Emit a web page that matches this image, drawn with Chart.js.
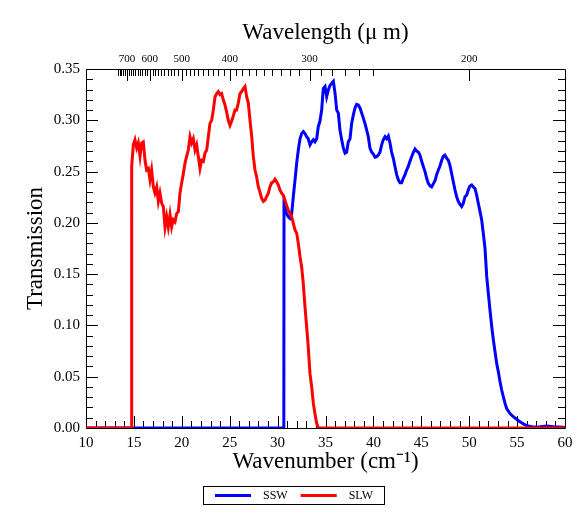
<!DOCTYPE html>
<html>
<head>
<meta charset="utf-8">
<script src="https://cdn.jsdelivr.net/npm/chart.js@4.4.1/dist/chart.umd.min.js"></script>
<style>
  html, body { margin: 0; padding: 0; background: #fff; }
  #wrap { width: 588px; height: 516px; }
</style>
</head>
<body>
<div id="wrap"><canvas id="chart" width="588" height="516"></canvas></div>
<script>
// SSW (blue) transmission vs wavenumber (cm-1)
const sswWavenumber = [10, 30.65, 30.67, 30.94, 31.12, 31.29, 31.47, 31.64, 31.82, 31.99, 32.16, 32.34, 32.51, 32.68, 32.86, 33.03,
  33.2, 33.38, 33.56, 33.73, 33.9, 34.08, 34.25, 34.42, 34.6, 34.77, 34.95, 35.12, 35.29, 35.47, 35.64, 35.82,
  36.0, 36.17, 36.34, 36.51, 36.69, 36.86, 37.04, 37.21, 37.38, 37.56, 37.73, 37.9, 38.08, 38.25, 38.42, 38.6,
  38.78, 38.95, 39.12, 39.3, 39.47, 39.64, 39.82, 39.99, 40.17, 40.34, 40.51, 40.69, 40.86, 41.03, 41.21, 41.38,
  41.56, 41.73, 41.9, 42.08, 42.25, 42.43, 42.6, 42.78, 42.95, 43.12, 43.3, 43.47, 43.64, 43.82, 43.99, 44.16,
  44.34, 44.51, 44.69, 44.86, 45.04, 45.21, 45.39, 45.56, 45.73, 45.91, 46.08, 46.25, 46.43, 46.6, 46.78, 46.95,
  47.13, 47.3, 47.47, 47.65, 47.82, 47.99, 48.17, 48.34, 48.52, 48.69, 48.86, 49.04, 49.21, 49.38, 49.56, 49.73,
  49.9, 50.08, 50.26, 50.43, 50.6, 50.78, 50.95, 51.13, 51.3, 51.47, 51.65, 51.83, 52.0, 52.17, 52.35, 52.52,
  52.7, 52.87, 53.04, 53.22, 53.39, 53.56, 53.74, 53.91, 54.26, 54.6, 54.96, 55.3, 55.65, 56.0, 56.7, 57.4,
  58.1, 58.8, 59.8, 60];
const sswTransmission = [0, 0, 0.219, 0.209, 0.206, 0.2045, 0.209, 0.2255, 0.242, 0.258, 0.271, 0.282, 0.287, 0.289, 0.287, 0.284,
  0.282, 0.276, 0.279, 0.281, 0.279, 0.282, 0.294, 0.299, 0.310, 0.331, 0.333, 0.323, 0.3295, 0.334, 0.336, 0.338,
  0.326, 0.310, 0.307, 0.2905, 0.281, 0.273, 0.268, 0.269, 0.279, 0.282, 0.297, 0.305, 0.312, 0.3155, 0.315, 0.312,
  0.307, 0.302, 0.297, 0.2905, 0.284, 0.273, 0.269, 0.267, 0.264, 0.2645, 0.266, 0.269, 0.276, 0.281, 0.284, 0.282,
  0.2847, 0.278, 0.269, 0.263, 0.255, 0.247, 0.242, 0.239, 0.239, 0.2435, 0.247, 0.2515, 0.255, 0.260, 0.2645, 0.2685,
  0.272, 0.270, 0.269, 0.266, 0.260, 0.255, 0.250, 0.2435, 0.2385, 0.236, 0.235, 0.238, 0.241, 0.247, 0.2515, 0.2555,
  0.261, 0.265, 0.266, 0.263, 0.261, 0.256, 0.248, 0.240, 0.232, 0.2255, 0.221, 0.218, 0.216, 0.219, 0.2255, 0.227,
  0.232, 0.236, 0.237, 0.235, 0.2335, 0.227, 0.219, 0.211, 0.203, 0.190, 0.175, 0.1475, 0.131, 0.115, 0.099, 0.086,
  0.074, 0.063, 0.055, 0.045, 0.037, 0.0305, 0.024, 0.019, 0.014, 0.011, 0.0085, 0.006, 0.004, 0.0023, 0.001, 0.0013,
  0.002, 0.0013, 0.0008, 0.0005];

// SLW (red)
const slwWavenumber = [10, 14.75, 14.77, 14.94, 15.11, 15.29, 15.46, 15.64, 15.81, 15.98, 16.16, 16.33, 16.51, 16.68, 16.85, 17.03,
  17.2, 17.38, 17.55, 17.72, 17.9, 18.07, 18.25, 18.42, 18.59, 18.77, 18.94, 19.11, 19.29, 19.46, 19.64, 19.81,
  19.99, 20.16, 20.33, 20.51, 20.68, 20.86, 21.03, 21.2, 21.38, 21.55, 21.72, 21.9, 22.07, 22.25, 22.42, 22.6,
  22.77, 22.94, 23.12, 23.29, 23.47, 23.64, 23.81, 23.99, 24.16, 24.33, 24.51, 24.68, 24.85, 25.03, 25.2, 25.37,
  25.55, 25.72, 25.9, 26.07, 26.25, 26.42, 26.6, 26.77, 26.94, 27.12, 27.3, 27.46, 27.64, 27.81, 27.99, 28.16,
  28.33, 28.51, 28.68, 28.85, 29.03, 29.2, 29.38, 29.55, 29.73, 29.9, 30.07, 30.25, 30.42, 30.6, 30.77, 30.94,
  31.12, 31.29, 31.47, 31.64, 31.82, 31.99, 32.16, 32.34, 32.51, 32.68, 32.86, 33.03, 33.2, 33.38, 33.56, 33.73,
  33.9, 34.08, 34.25, 60];
const slwTransmission = [0, 0, 0.255, 0.276, 0.281, 0.273, 0.278, 0.265, 0.278, 0.279, 0.261, 0.2515, 0.253, 0.242, 0.2515, 0.235,
  0.229, 0.235, 0.221, 0.229, 0.219, 0.216, 0.196, 0.206, 0.196, 0.208, 0.196, 0.203, 0.201, 0.209, 0.211, 0.229,
  0.239, 0.248, 0.258, 0.265, 0.271, 0.284, 0.278, 0.282, 0.271, 0.276, 0.265, 0.253, 0.261, 0.260, 0.268, 0.271,
  0.284, 0.297, 0.300, 0.310, 0.323, 0.326, 0.328, 0.325, 0.326, 0.320, 0.315, 0.308, 0.300, 0.295, 0.299, 0.304,
  0.310, 0.310, 0.317, 0.326, 0.328, 0.331, 0.333, 0.323, 0.317, 0.300, 0.284, 0.265, 0.2515, 0.245, 0.235, 0.230,
  0.224, 0.221, 0.222, 0.2255, 0.229, 0.235, 0.239, 0.240, 0.2425, 0.240, 0.237, 0.232, 0.229, 0.227, 0.222, 0.217,
  0.2125, 0.209, 0.206, 0.1995, 0.193, 0.190, 0.180, 0.167, 0.157, 0.141, 0.118, 0.099, 0.079, 0.053, 0.040, 0.024,
  0.014, 0.0046, 0, 0];

// axis ticks
const wavenumberTicks = [10, 15, 20, 25, 30, 35, 40, 45, 50, 55, 60];
const transmissionTicks = [0, 0.05, 0.10, 0.15, 0.20, 0.25, 0.30, 0.35];
const wavelengthLabels = [700, 600, 500, 400, 300, 200];
const wavelengthMinor = [];
for (let l = 750; l >= 250; l -= 10) wavelengthMinor.push(l);

const FONT = "'Liberation Serif', 'Times New Roman', serif";

const toPoints = (xs, ys) => xs.map((x, i) => ({ x: x, y: ys[i] }));

// frame and inward tick marks
const frameTicks = {
  id: 'frameTicks',
  beforeDatasetsDraw(chart) {
    const ctx = chart.ctx;
    const a = chart.chartArea;
    const sx = chart.scales.x;
    const sy = chart.scales.y;
    const r = (v) => Math.round(v) + 0.5;
    ctx.save();
    ctx.strokeStyle = '#000';
    ctx.lineWidth = 1;
    ctx.beginPath();
    ctx.rect(r(a.left), r(a.top), Math.round(a.right) - Math.round(a.left), Math.round(a.bottom) - Math.round(a.top));
    // bottom wavenumber ticks
    for (let v = 10; v <= 60; v++) {
      const px = r(sx.getPixelForValue(v));
      const len = v % 5 === 0 ? 12 : 7;
      ctx.moveTo(px, a.bottom);
      ctx.lineTo(px, a.bottom - len);
    }
    // top wavelength ticks
    wavelengthMinor.concat(wavelengthLabels).forEach(function (l) {
      const px = r(sx.getPixelForValue(10000 / l));
      const len = wavelengthLabels.indexOf(l) >= 0 ? 12 : 7;
      ctx.moveTo(px, a.top);
      ctx.lineTo(px, a.top + len);
    });
    // left and right transmission ticks
    for (let i = 0; i <= 35; i++) {
      const py = r(sy.getPixelForValue(i / 100));
      const len = i % 5 === 0 ? 12 : 7;
      ctx.moveTo(a.left, py);
      ctx.lineTo(a.left + len, py);
      ctx.moveTo(a.right, py);
      ctx.lineTo(a.right - len, py);
    }
    ctx.stroke();
    ctx.restore();
  }
};

// boxed legend below the x axis title (SSW first, then SLW)
const boxedLegend = {
  id: 'boxedLegend',
  afterDraw(chart) {
    const ctx = chart.ctx;
    const sets = chart.data.datasets.slice().reverse();
    const lineLen = 36, gap = 12, itemGap = 13, padL = 12, padR = 11;
    ctx.save();
    ctx.font = "12px " + FONT;
    const widths = sets.map(d => ctx.measureText(d.label).width);
    let total = padL + padR;
    sets.forEach(function (d, i) {
      total += lineLen + gap + widths[i] + (i < sets.length - 1 ? itemGap : 0);
    });
    const left = Math.round(chart.width / 2 - total / 2);
    const top = 486, h = 18, cy = top + h / 2;
    ctx.strokeStyle = '#000';
    ctx.lineWidth = 1;
    ctx.strokeRect(left + 0.5, top + 0.5, Math.round(total), h);
    let x = left + padL;
    sets.forEach(function (d, i) {
      ctx.fillStyle = d.borderColor;
      ctx.fillRect(x, cy - 1, lineLen, 3);
      x += lineLen + gap;
      ctx.fillStyle = '#000';
      ctx.textBaseline = 'middle';
      ctx.textAlign = 'left';
      ctx.fillText(d.label, x, cy + 0.5);
      x += widths[i] + itemGap;
    });
    ctx.restore();
  }
};

const ctx = document.getElementById('chart').getContext('2d');

new Chart(ctx, {
  type: 'line',
  data: {
    datasets: [
      {
        label: 'SLW',
        data: toPoints(slwWavenumber, slwTransmission),
        borderColor: '#ff0000',
        backgroundColor: '#ff0000',
        borderWidth: 3,
        pointRadius: 0,
        tension: 0,
        fill: false
      },
      {
        label: 'SSW',
        data: toPoints(sswWavenumber, sswTransmission),
        borderColor: '#0000ff',
        backgroundColor: '#0000ff',
        borderWidth: 3,
        pointRadius: 0,
        tension: 0,
        fill: false
      }
    ]
  },
  options: {
    responsive: false,
    animation: false,
    events: [],
    layout: { padding: { left: 0, right: 23, top: 0, bottom: 38 } },
    scales: {
      x: {
        type: 'linear',
        position: 'bottom',
        min: 10,
        max: 60,
        afterBuildTicks: function (s) { s.ticks = wavenumberTicks.map(v => ({ value: v })); },
        afterFit: function (s) { s.height = 50; },
        grid: { display: false, drawTicks: false },
        border: { display: false },
        ticks: { color: '#000', font: { family: FONT, size: 15 }, padding: 6, maxRotation: 0, autoSkip: false },
        title: {
          display: true,
          text: 'Wavenumber (cm\u207B\u00B9)',
          color: '#000',
          font: { family: FONT, size: 23 },
          padding: { top: 0, bottom: 2 }
        }
      },
      x2: {
        type: 'linear',
        position: 'top',
        min: 10,
        max: 60,
        afterBuildTicks: function (s) { s.ticks = wavelengthLabels.map(l => ({ value: 10000 / l })); },
        afterFit: function (s) { s.height = 69; },
        grid: { display: false, drawTicks: false },
        border: { display: false },
        ticks: {
          color: '#000',
          font: { family: FONT, size: 11 },
          padding: 3,
          maxRotation: 0,
          autoSkip: false,
          callback: function (v) { return Math.round(10000 / v); }
        },
        title: {
          display: true,
          text: 'Wavelength (\u03BC m)',
          color: '#000',
          font: { family: FONT, size: 23 },
          padding: { top: 19, bottom: 0 }
        }
      },
      y: {
        min: 0,
        max: 0.35,
        afterBuildTicks: function (s) { s.ticks = transmissionTicks.map(v => ({ value: v })); },
        afterFit: function (s) { s.width = 86; },
        grid: { display: false, drawTicks: false },
        border: { display: false },
        ticks: {
          color: '#000',
          font: { family: FONT, size: 15 },
          padding: 6,
          callback: function (v) { return v.toFixed(2); }
        },
        title: {
          display: true,
          text: 'Transmission',
          color: '#000',
          font: { family: FONT, size: 23 },
          padding: { top: 22, bottom: 0 }
        }
      }
    },
    plugins: {
      tooltip: { enabled: false },
      legend: { display: false }
    }
  },
  plugins: [frameTicks, boxedLegend]
});
</script>
</body>
</html>
